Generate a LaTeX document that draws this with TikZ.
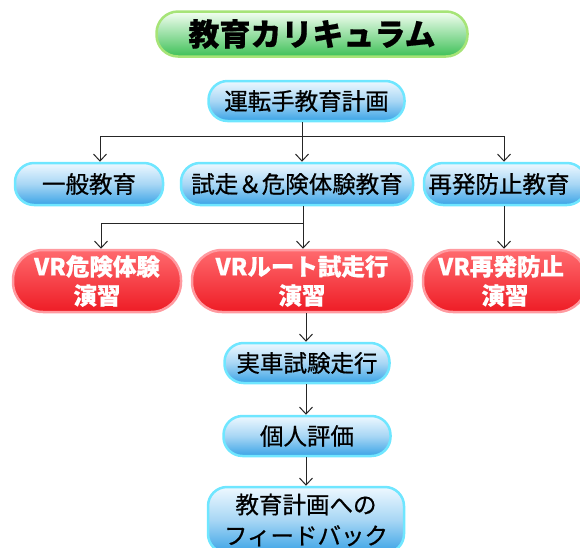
\documentclass[tikz,border=0pt]{standalone}
\usepackage{fontspec}
\newfontfamily\jp{Noto Sans CJK JP}[FakeBold=0.6]
\newfontfamily\jpb{Noto Sans CJK JP Bold}
\usetikzlibrary{arrows.meta,calc}
\definecolor{bluebot}{HTML}{3AA3E6}
\definecolor{bluetop}{HTML}{EEF8FF}
\definecolor{blueedge}{HTML}{6FE6FF}
\definecolor{redtop}{HTML}{FF6A6E}
\definecolor{redbot}{HTML}{EE1C25}
\definecolor{rededge}{HTML}{FF9AA0}
\definecolor{greentop}{HTML}{F4FFF2}
\definecolor{greenbot}{HTML}{3EC057}
\definecolor{greenedge}{HTML}{A6E477}
\tikzset{
  x=1pt,y=-1pt,
  pill/.style={minimum height=#1, rounded corners=#1/2-1pt, line width=2.5pt, inner sep=0pt, align=center},
  bluebox/.style={pill=40pt, draw=blueedge, top color=bluetop, bottom color=bluebot, middle color=bluetop!40!bluebot!70, font=\jp\fontsize{23.5}{26}\selectfont, text=black},
  redbox/.style={pill=62pt, draw=rededge, top color=redtop, bottom color=redbot, font=\jp\bfseries\fontsize{23.5}{29}\selectfont, text=white},
  titlebox/.style={pill=45pt, draw=greenedge, top color=greentop, bottom color=greenbot, font=\jp\bfseries\fontsize{31}{34}\selectfont, text=black},
  arr/.style={draw=black!85, line width=1pt, -{Straight Barb[length=7pt,width=13pt,line width=1pt]}},
  ln/.style={draw=black!85, line width=1pt}
}
\begin{document}
\begin{tikzpicture}
\useasboundingbox (0,0) rectangle (580,547);
\node[titlebox, minimum width=311pt] (title) at (312,34) {教育カリキュラム};
\node[bluebox, minimum width=196pt] (plan) at (306.5,101) {運転手教育計画};
\node[bluebox, minimum width=148pt, minimum height=42pt] (ippan) at (89,184) {一般教育};
\node[bluebox, minimum width=232pt, minimum height=42pt] (shisou) at (297,184) {試走＆危険体験教育};
\node[bluebox, minimum width=162pt, minimum height=42pt] (saihatsu) at (505,184) {\hspace*{-12pt}再発防止教育};
\node[redbox, minimum width=168pt] (vr1) at (97,281) {VR危険体験\\演習};
\node[redbox, minimum width=220pt] (vr2) at (302,281) {VRルート試走行\\演習};
\node[redbox, minimum width=164pt] (vr3) at (505,281) {\hspace*{-8pt}VR再発防止\\演習};
\node[bluebox, minimum width=165pt] (jissha) at (307,363) {実車試験走行};
\node[bluebox, minimum width=167pt] (kojin) at (307,436) {個人評価};
\node[bluebox, minimum width=196pt, minimum height=66pt, font=\jp\fontsize{23.5}{31}\selectfont] (fb) at (306,520) {教育計画への\\フィードバック};
% top branch
\coordinate (j1) at (302,136);
\coordinate (jl) at (100,136);
\coordinate (jr) at (504,136);
\draw[ln] (j1 |- plan.south) -- (j1);
\draw[ln] (jl) -- (jr);
\draw[arr] (jl) -- (jl |- ippan.north);
\draw[arr] (j1) -- (j1 |- shisou.north);
\draw[arr] (jr) -- (jr |- saihatsu.north);
% second branch
\coordinate (j2) at (303,223);
\coordinate (j2l) at (101,223);
\draw[ln] (j2 |- shisou.south) -- (j2);
\draw[ln] (j2l) -- (j2);
\draw[arr] (j2) -- (j2 |- vr2.north);
\draw[arr] (j2l) -- (j2l |- vr1.north);
\draw[arr] (jr |- saihatsu.south) -- (jr |- vr3.north);
% chain
\coordinate (c) at (306,0);
\draw[arr] (c |- vr2.south) -- (c |- jissha.north);
\draw[arr] (c |- jissha.south) -- (c |- kojin.north);
\draw[arr] (c |- kojin.south) -- (c |- fb.north);
\end{tikzpicture}
\end{document}
